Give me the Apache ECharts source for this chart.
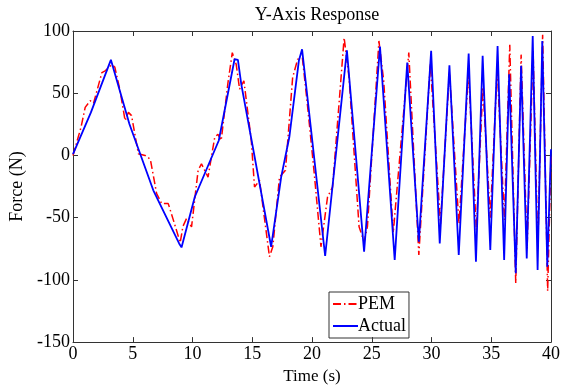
<!DOCTYPE html>
<html>
<head>
<meta charset="utf-8">
<style>html,body{margin:0;padding:0;background:#fff;}#c{width:563px;height:390px;}</style>
<script src="https://cdn.jsdelivr.net/npm/echarts@6/dist/echarts.min.js"></script>
</head>
<body>
<div id="c"></div>
<script>
const actualT = [0,1.5,3.17,4.72,6.72,8.88,9.08,10.19,12.2,13.52,13.8,14.08,16.58,17.42,18.1,18.9,19.17,21.1,22.92,24.36,25.69,26.92,27.97,28.94,29.97,30.69,31.5,32.28,33.11,33.72,34.28,34.92,35.53,36.08,36.5,37.05,37.5,37.97,38.47,38.88,39.27,39.69,40];
const actualF = [1,34.6,76.8,25.3,-28,-70.7,-73.9,-33.4,12,77.3,76.8,57.3,-73.4,-17.4,14.6,76,85.3,-80.8,84.5,-77.4,87.4,-84,74.6,-69.4,84,-70.7,72.5,-80,81.8,-85.4,80,-76,88,-84,65.3,-94.7,72,-82.7,96,-92,92,-89.4,5];
const pemT = [0,0.67,1.02,1.44,1.72,2.42,2.69,3.25,3.5,3.94,4.36,4.64,4.9,5.47,6.03,6.47,7.0,7.42,7.97,8.4,8.97,9.2,9.5,9.92,10.47,10.75,11.3,11.86,12.13,12.4,12.97,13.33,13.66,13.94,14.3,14.92,15.19,15.61,16.44,16.72,17.28,17.78,18.38,18.8,19.2,19.64,20.19,20.75,21.3,21.72,22.69,23.1,23.94,24.36,24.64,25.6,26.0,26.8,28.1,28.94,29.9,30.75,31.5,32.3,33.1,33.75,34.3,34.92,35.5,36.1,36.55,37.05,37.5,38.0,38.5,38.9,39.3,39.72,40];
const pemF = [0,22.6,38.6,44,42,66.6,68,73,71,52,28,34.6,32,1.3,0,-3,-30.7,-38.7,-38.7,-52,-70,-57,-50.7,-57.4,-12,-6.7,-17.4,14.6,17,12,58.6,82.6,73,53.3,60,12,-25.4,-20,-81.4,-73.4,-17.4,-12,62.6,77.3,78,38.6,-14.7,-73.4,-33.4,-25.4,94.6,62.6,-57.4,-69.4,-57,92,60,-62,82.6,-80,74,-55,67,-55,67,-60,55,-50,70,-52,89,-102.7,81,-74.7,85,-75,97,-109,0];
const xTicks = [0,5,10,15,20,25,30,35,40];
const yTicks = [-150,-100,-50,0,50,100];

const serif = '"Liberation Serif","DejaVu Serif",serif';
const chart = echarts.init(document.getElementById('c'), null, {renderer:'canvas'});
const pair = (t,f)=>t.map((v,i)=>[v,f[i]]);
const axisBase = () => ({
  axisLine:{show:true,onZero:false,lineStyle:{color:'#333',width:1}},
  axisTick:{show:true,inside:true,length:5,lineStyle:{color:'#333'}},
  splitLine:{show:false}
});
chart.setOption({
  animation:false,
  backgroundColor:'#fff',
  title:{text:'Y-Axis Response',left:312,top:1,textAlign:'center',
    textStyle:{fontFamily:serif,fontSize:18,fontWeight:'normal',color:'#000'}},
  grid:{left:73,right:10,top:31,bottom:46,containLabel:false},
  legend:{left:329,top:292,orient:'vertical',borderColor:'#333',borderWidth:1,
    padding:[3,3,3,3],itemGap:4,itemWidth:25,itemHeight:20,
    itemStyle:{opacity:0},
    textStyle:{fontFamily:serif,fontSize:18,color:'#000',padding:[0,0,0,-5]},
    data:['PEM','Actual']},
  xAxis:[
    Object.assign({type:'value',min:0,max:40,interval:5,position:'bottom',
      name:'Time (s)',nameLocation:'middle',nameGap:24,
      nameTextStyle:{fontFamily:serif,fontSize:17,color:'#000'},
      axisLabel:{fontFamily:serif,fontSize:18,color:'#000',margin:3}},axisBase()),
    Object.assign({type:'value',min:0,max:40,interval:5,position:'top',
      axisLabel:{show:false}},axisBase())
  ],
  yAxis:[
    Object.assign({type:'value',min:-150,max:100,interval:50,position:'left',
      name:'Force (N)',nameLocation:'middle',nameGap:37,
      nameTextStyle:{fontFamily:serif,fontSize:18,color:'#000'},
      axisLabel:{fontFamily:serif,fontSize:18,color:'#000',margin:3}},axisBase()),
    Object.assign({type:'value',min:-150,max:100,interval:50,position:'right',
      axisLabel:{show:false}},axisBase())
  ],
  series:[
    {name:'PEM',type:'line',data:pair(pemT,pemF),showSymbol:false,symbol:'none',
      lineStyle:{color:'#ff0000',width:1.5,type:[8,3,1.5,3]},itemStyle:{color:'#ff0000'},z:2},
    {name:'Actual',type:'line',data:pair(actualT,actualF),showSymbol:false,symbol:'none',
      lineStyle:{color:'#0000ff',width:1.8},itemStyle:{color:'#0000ff'},z:3}
  ]
});
</script>
</body>
</html>
